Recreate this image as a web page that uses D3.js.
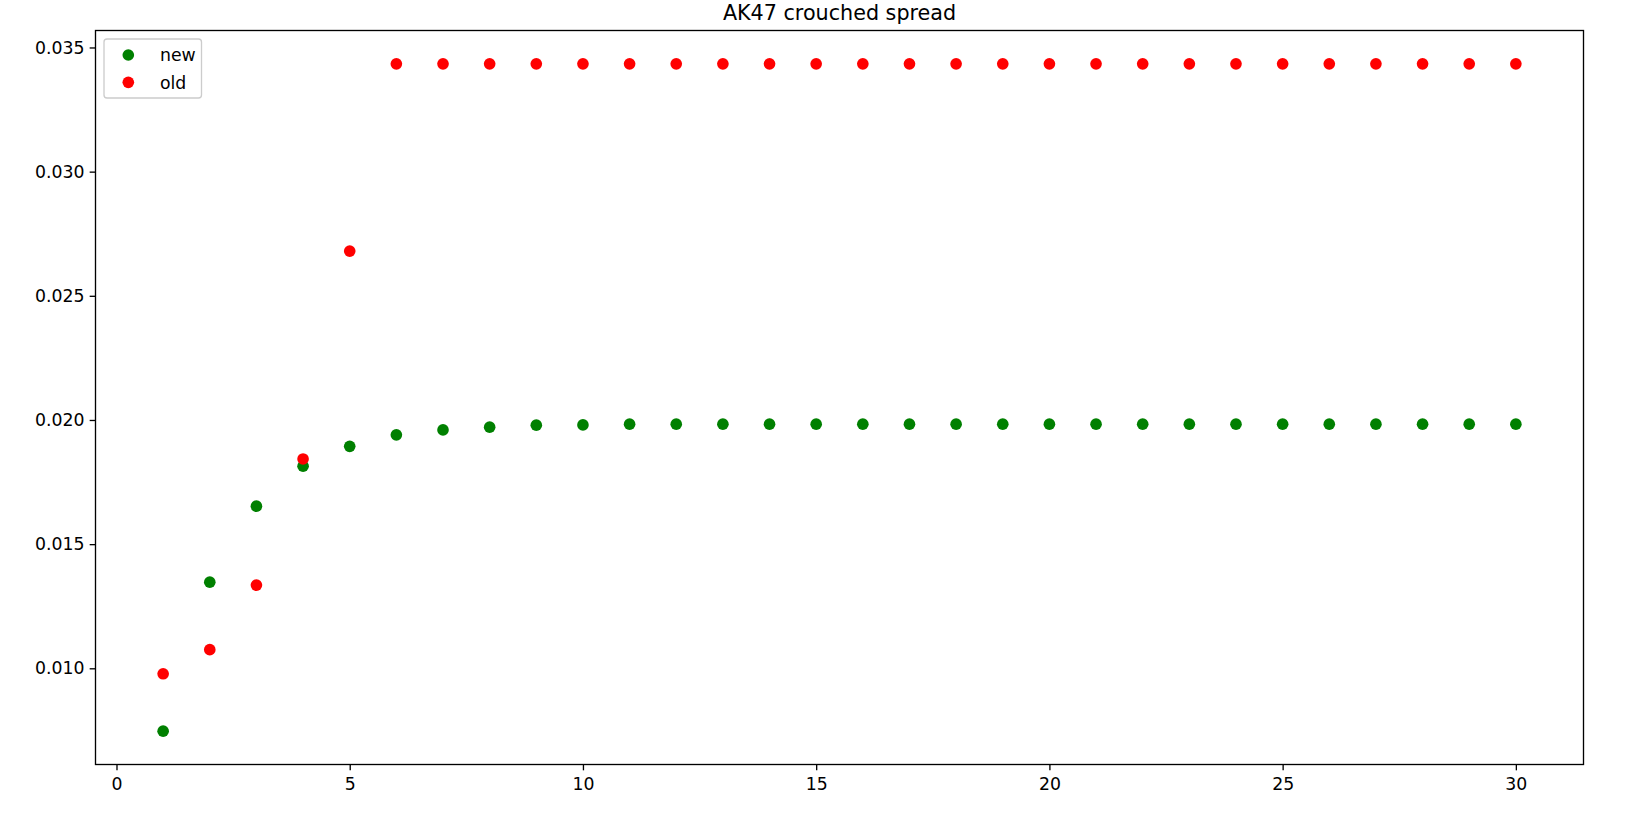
<!DOCTYPE html>
<html>
<head>
<meta charset="utf-8">
<script src="https://cdn.jsdelivr.net/npm/d3@7"></script>
<style>
  html, body { margin: 0; padding: 0; background: #fff; }
  svg { display: block; font-family: "DejaVu Sans", sans-serif; }
</style>
</head>
<body>
<svg id="chart" width="1635" height="815"></svg>
<script>
// ---- data ----
const shots = [1,2,3,4,5,6,7,8,9,10,11,12,13,14,15,16,17,18,19,20,21,22,23,24,25,26,27,28,29,30];
const newSpread = [0.00747,0.01347,0.01653,0.01814,0.01894,0.01940,0.01960,0.01971,0.01979,0.01980,
                   0.01983,0.01983,0.01983,0.01983,0.01983,0.01983,0.01983,0.01983,0.01983,0.01983,
                   0.01983,0.01983,0.01983,0.01983,0.01983,0.01983,0.01983,0.01983,0.01983,0.01983];
const oldSpread = [0.00978,0.01075,0.01335,0.01843,0.02680,0.03434,0.03434,0.03434,0.03434,0.03434,
                   0.03434,0.03434,0.03434,0.03434,0.03434,0.03434,0.03434,0.03434,0.03434,0.03434,
                   0.03434,0.03434,0.03434,0.03434,0.03434,0.03434,0.03434,0.03434,0.03434,0.03434];
const xTicks = [0,5,10,15,20,25,30];
const yTicks = [0.010,0.015,0.020,0.025,0.030,0.035];
const seriesNames = ["new","old"];
const seriesColors = ["green","red"];
const titleText = "AK47 crouched spread";

// ---- layout ----
const svg = d3.select("#chart");
const L = 95.5, R = 1583.5, T = 30.5, B = 764.5;
const fs = 17.3;

function padded(ext) { const d = ext[1]-ext[0]; return [ext[0]-0.05*d, ext[1]+0.05*d]; }
const xExt = padded(d3.extent(shots));
const yExt = padded(d3.extent(newSpread.concat(oldSpread)));
const x = d3.scaleLinear().domain(xExt).range([L, R]);
const y = d3.scaleLinear().domain(yExt).range([B, T]);

// points
const series = [newSpread, oldSpread];
series.forEach((vals, i) => {
  svg.append("g").selectAll("circle")
    .data(shots.map((s, k) => [s, vals[k]]))
    .join("circle")
    .attr("cx", d => x(d[0]))
    .attr("cy", d => y(d[1]))
    .attr("r", 5.83)
    .attr("fill", seriesColors[i]);
});

// axes
const xAxis = d3.axisBottom(x).tickValues(xTicks).tickFormat(d3.format("d")).tickSize(5.83).tickPadding(7.2);
const yAxis = d3.axisLeft(y).tickValues(yTicks).tickFormat(d3.format(".3f")).tickSize(5.83).tickPadding(5.2);
const gx = svg.append("g").attr("transform", `translate(0,${B})`).call(xAxis);
const gy = svg.append("g").attr("transform", `translate(${L},0)`).call(yAxis);
[gx, gy].forEach(g => {
  g.select(".domain").remove();
  g.selectAll(".tick line").attr("stroke", "#000").attr("stroke-width", 1.33);
  g.selectAll(".tick text").attr("fill", "#000").attr("font-size", fs).attr("font-family", "DejaVu Sans");
});
gx.selectAll(".tick text").attr("dy", "0.72em");

// frame
svg.append("rect").attr("x", L).attr("y", T).attr("width", R - L).attr("height", B - T)
  .attr("fill", "none").attr("stroke", "#000").attr("stroke-width", 1.33);

// title
svg.append("text").attr("x", (L + R) / 2).attr("y", 19.5).attr("text-anchor", "middle")
  .attr("font-size", 20.7).attr("fill", "#000").text(titleText);

// legend
const lg = svg.append("g");
lg.append("rect").attr("x", 104).attr("y", 39).attr("width", 97.5).attr("height", 59)
  .attr("rx", 3).attr("ry", 3)
  .attr("fill", "rgba(255,255,255,0.8)").attr("stroke", "#cccccc").attr("stroke-width", 1.33);
seriesNames.forEach((n, i) => {
  const cy = 55 + i * 27.3;
  lg.append("circle").attr("cx", 128.3).attr("cy", cy).attr("r", 5.83).attr("fill", seriesColors[i]);
  lg.append("text").attr("x", 160).attr("y", cy).attr("dy", "0.36em")
    .attr("font-size", fs).attr("fill", "#000").text(n);
});
</script>
</body>
</html>
